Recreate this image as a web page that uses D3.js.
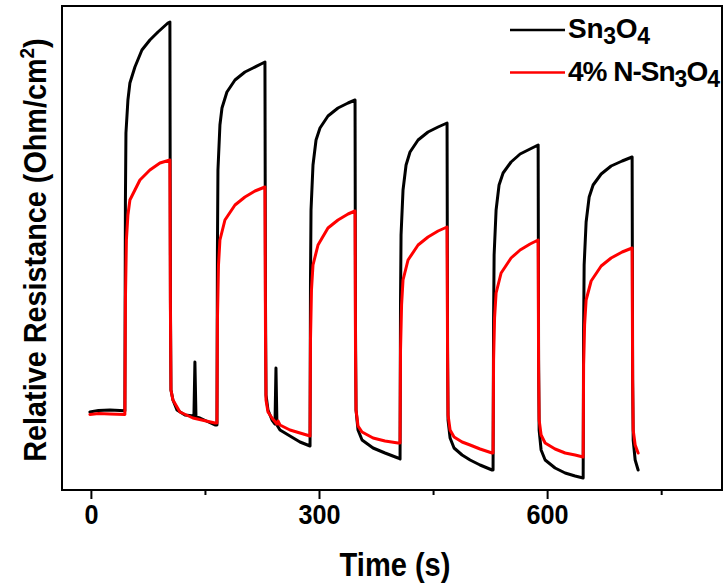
<!DOCTYPE html>
<html><head><meta charset="utf-8">
<script src="https://cdn.jsdelivr.net/npm/d3@7"></script>
<style>
html,body{margin:0;padding:0;background:#fff;}
svg{display:block;font-family:"Liberation Sans",Arial,sans-serif;font-weight:bold;}
</style></head>
<body>
<svg id="chart" width="725" height="586"></svg>
<script>
// ---- data (time in s, relative resistance in arbitrary units) ----
const seriesNames = ["Sn3O4", "4% N-Sn3O4"];
const seriesColors = ["#000000", "#ff0000"];
const majorTicks = [0, 300, 600];
const minorTicks = [150, 450, 750];

const sn3o4 = [
  [-1.3,19.5],[10,19.9],[25,20],[44.7,19.8],
  [45.4,72.5],[46.1,89.25],[48.7,97.5],[51.3,101.75],[57.9,105.75],[67.1,110],[77.6,112.5],[88.2,114.5],[101.3,116.75],[103.9,117],
  [104.6,47.5],[105.3,25],[107.9,22.5],[113.2,20],[123.7,18.75],[135.5,18.5],[136.8,32],[138.2,18.25],[143.4,18],[163.2,16.25],[165.8,16.25],
  [166.4,60],[167.1,80],[169.7,91.25],[172.4,95.5],[178.9,99.5],[189.5,102.5],[202.6,104.5],[213.2,105.5],[226.3,106.75],[228.9,107],
  [229.6,47.5],[230.3,23.75],[232.9,20],[238.2,17.5],[242.1,16.5],[243.4,30.5],[244.7,16.25],[248.7,15],[261.8,13.5],[275,12],[288.2,11],
  [288.8,52.5],[289.5,70],[292.1,81.25],[296.1,87.5],[301.3,90.5],[311.8,93.5],[325,95.5],[338.2,96.75],[347.4,97.5],
  [348,40],[348.7,20],[351.3,15],[356.6,12.5],[371.1,10.5],[386.8,9.25],[403.9,8],[406.6,7.75],
  [407.2,47.5],[407.9,63.75],[410.5,75],[414.5,81.25],[419.7,84.5],[430.3,87.5],[443.4,89.5],[456.6,90.75],[468.4,91.75],
  [469.1,35],[469.7,17.5],[472.4,13],[477.6,10.5],[488.2,8.75],[498.7,7.5],[511.8,6.25],[527.6,5],[528.9,5],
  [529.6,42.5],[530.3,58.75],[532.9,70],[536.8,76.25],[542.1,79.25],[552.6,82],[564.5,84],[577.6,85.25],[588.2,86.25],
  [588.8,32.5],[589.5,15],[592.1,10],[597.4,7.5],[610.5,5.5],[623.7,4.25],[636.8,3.5],[647.4,3],
  [648,40],[648.7,56.25],[651.3,67],[655.3,73.25],[660.5,76.25],[671.1,79],[684.2,81],[698.7,82.25],[711.8,83.25],
  [712.5,27.5],[713.2,12.5],[715.8,7.5],[719.7,5]
];

const nSn3o4 = [
  [-1.3,18.9],[10,19.1],[25,19],[44.7,18.9],
  [45.4,47.5],[46.7,62.5],[48.7,68.75],[51.3,72.5],[64.5,77.5],[77.6,80],[90.8,81.75],[103.9,82.5],
  [104.6,45],[105.3,25],[107.9,22.5],[117.1,19.5],[134.2,18],[163.2,16.75],[165.8,16.75],
  [166.4,42.5],[167.8,56.25],[169.7,62.5],[176.3,67.5],[189.5,71.25],[202.6,73.25],[215.8,74.75],[228.9,75.75],
  [229.6,40],[230.3,22.5],[232.9,19.5],[238.2,18],[244.7,16.5],[246.1,17.25],[248.7,16.25],[261.8,15],[275,14.25],[288.2,13.5],
  [288.8,37.5],[290.1,50],[292.1,56.25],[298.7,61.25],[311.8,65.5],[325,67.5],[338.2,69],[347.4,69.75],
  [348,35],[348.7,20],[351.3,16],[356.6,14.5],[371.1,13],[386.8,12.25],[403.9,11.75],[406.6,11.75],
  [407.2,35],[408.6,46.25],[410.5,52.5],[417.1,57.5],[430.3,61.25],[443.4,63.25],[456.6,64.75],[468.4,65.75],
  [469.1,32.5],[469.7,18.75],[472.4,15],[477.6,13.25],[488.2,12],[498.7,11.25],[511.8,10.25],[527.6,9.25],[528.9,9.25],
  [529.6,32.5],[530.9,43],[532.9,49.25],[539.5,54.25],[552.6,58],[564.5,60],[577.6,61.5],[588.2,62.5],
  [588.8,30],[589.5,17.5],[592.1,13.75],[597.4,11.75],[610.5,10.25],[623.7,9.25],[636.8,8.75],[647.4,8.25],
  [648,31.25],[649.3,41.25],[651.3,47.5],[657.9,52.25],[671.1,56],[684.2,58],[698.7,59.5],[711.8,60.5],
  [712.5,27.5],[713.2,15],[715.8,11.25],[719.7,9.25]
];

const xDomain = [-38, 830];
const yDomain = [0, 121];

// ---- layout ----
const svg = d3.select("#chart");
const mLeft = 62, mRight = 722, mTop = 6, mBottom = 490;
const x = d3.scaleLinear().domain(xDomain).range([mLeft, mRight]);
const y = d3.scaleLinear().domain(yDomain).range([mBottom, mTop]);

const line = d3.line().x(d => x(d[0])).y(d => y(d[1]));

const plot = svg.append("g");
[sn3o4, nSn3o4].forEach((s, i) => {
  plot.append("path").datum(s)
    .attr("d", line)
    .attr("fill", "none")
    .attr("stroke", seriesColors[i])
    .attr("stroke-width", 3)
    .attr("stroke-linejoin", "round")
    .attr("stroke-linecap", "round");
});

// frame
svg.append("rect").attr("x", mLeft).attr("y", mTop)
  .attr("width", mRight - mLeft).attr("height", mBottom - mTop)
  .attr("fill", "none").attr("stroke", "#000").attr("stroke-width", 2);

// x axis
const gx = svg.append("g").attr("transform", `translate(0,${mBottom})`)
  .call(d3.axisBottom(x).tickValues(majorTicks).tickSize(9).tickPadding(5).tickFormat(d3.format("d")));
gx.select(".domain").remove();
gx.selectAll(".tick line").attr("stroke", "#000").attr("stroke-width", 2);
gx.selectAll(".tick text")
  .attr("font-size", 28).attr("font-weight", "bold").attr("fill", "#000")
  .attr("font-family", "Liberation Sans, Arial, sans-serif")
  .attr("transform", "scale(0.9,1)");

const gm = svg.append("g").attr("transform", `translate(0,${mBottom})`)
  .call(d3.axisBottom(x).tickValues(minorTicks).tickSize(5).tickFormat(""));
gm.select(".domain").remove();
gm.selectAll(".tick line").attr("stroke", "#000").attr("stroke-width", 2);

// axis titles
svg.append("g").attr("transform", "translate(395,576) scale(0.88,1)")
  .append("text").attr("text-anchor", "middle")
  .attr("font-size", 33).attr("fill", "#000").text("Time (s)");

const yt = svg.append("g").attr("transform", "translate(46,250) rotate(-90) scale(0.9,1)")
  .append("text").attr("text-anchor", "middle").attr("font-size", 32).attr("fill", "#000");
yt.append("tspan").text("Relative Resistance (Ohm/cm");
yt.append("tspan").attr("font-size", 21).attr("dy", -12).text("2");
yt.append("tspan").attr("dy", 12).text(")");

// legend
const legend = svg.append("g");
const legendRows = [
  {parts: [["Sn",0],["3",1],["O",0],["4",1]]},
  {parts: [["4% N-Sn",0],["3",1],["O",0],["4",1]]}
];
const rowY = [30, 72.5];
legendRows.forEach((r, i) => {
  legend.append("line").attr("x1", 510).attr("x2", 565)
    .attr("y1", rowY[i]).attr("y2", rowY[i])
    .attr("stroke", seriesColors[i]).attr("stroke-width", 2.5);
  const t = legend.append("text").attr("x", 568).attr("y", rowY[i] + 8)
    .attr("font-size", 28).attr("fill", "#000").attr("letter-spacing", i === 0 ? -0.3 : -1);
  let shifted = 0;
  r.parts.forEach(([txt, sub]) => {
    const dy = sub ? 6 - shifted : -shifted;
    shifted = sub ? 6 : 0;
    t.append("tspan").attr("dy", dy).attr("font-size", sub ? 23 : 28).text(txt);
  });
});
</script>
</body></html>
